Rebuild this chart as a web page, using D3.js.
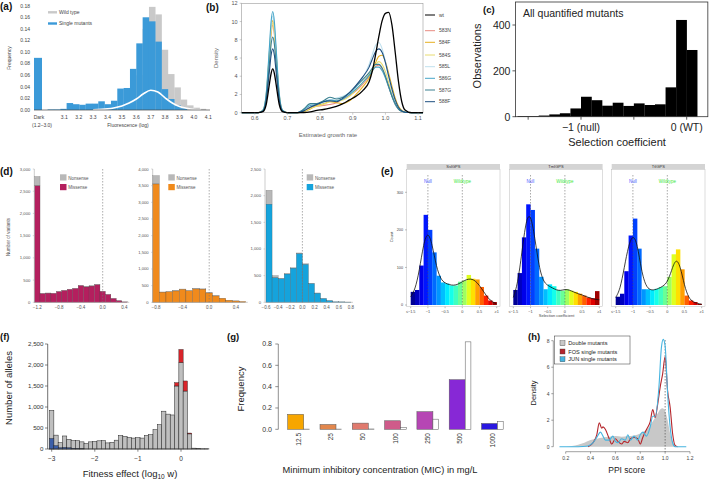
<!DOCTYPE html>
<html><head><meta charset="utf-8">
<script src="https://cdn.jsdelivr.net/npm/d3@7"></script>
<style>body{margin:0;background:#fff}svg{display:block}text{font-family:"Liberation Sans",Arial,sans-serif}</style>
</head><body><svg id="c" width="709" height="482"></svg>
<script>
// ---------- Panel a ----------
const aBinEdges = [2.984,3.028,3.072,3.116,3.160,3.204,3.248,3.292,3.336,3.380,3.424,3.468,3.512,3.556,3.600,3.644,3.688,3.732,3.776,3.820,3.864,3.908,3.952,3.996,4.040];
const aBinWidth = 0.044;
const aSingle = [0.001,0.001,0.002,0.012,0.010,0.009,0.011,0.011,0.015,0.010,0.016,0.037,0.038,0.071,0.115,0.160,0.153,0.118,0.036,0.019,0.008,0.003,0,0,0];
const aWild   = [0,0,0,0,0,0,0,0,0,0,0,0,0,0.020,0.060,0.140,0.178,0.165,0.104,0.062,0.039,0.018,0.008,0.004,0.002];
const aDarkCat = ["Dark"];
const aDarkValue = [0.09];
const aCurveX = [3.30,3.40,3.45,3.50,3.55,3.60,3.65,3.70,3.75,3.80,3.85,3.90,3.95,4.00,4.05];
const aCurveY = [0.0005,0.002,0.004,0.007,0.012,0.019,0.028,0.034,0.031,0.021,0.012,0.006,0.003,0.001,0.0003];
const aYTicks = [0,0.02,0.04,0.06,0.08,0.10,0.12,0.14,0.16,0.18];
const aXTicks = [3.1,3.2,3.3,3.4,3.5,3.6,3.7,3.8,3.9,4.0,4.1];

// ---------- Panel b ----------
const bX = [0.56,0.61,0.625,0.635,0.645,0.65,0.655,0.66,0.665,0.675,0.685,0.70,0.73,0.75,0.77,0.79,0.81,0.83,0.85,0.87,0.89,0.91,0.93,0.95,0.96,0.97,0.98,0.99,1.00,1.01,1.02,1.03,1.04,1.05,1.06,1.08,1.115];
const bNames = ["wt","583N","584F","584S","585L","586G","587G","588F"];
const bColors = ["#000000","#e88a80","#e6b020","#e8dc70","#bfe0ee","#45a5c8","#3a8090","#1e4f80"];
const bWt   = [0,0,0.12,0.9,3.2,4.3,4.8,4.3,3.2,0.9,0.12,0,0,0.02,0.1,0.25,0.35,0.5,0.7,1.0,1.4,1.8,2.4,3.4,4.6,6.4,8.4,10.1,10.9,11.0,9.6,6.6,3.4,1.2,0.3,0,0];
const b583N = [0,0,0.23,1.8,6.3,8.6,9.6,8.6,6.3,1.8,0.23,0,0,0.2,0.6,0.7,0.8,0.9,1.1,1.5,1.9,2.4,3.1,4.0,4.6,5.1,5.2,4.8,3.9,2.8,1.8,0.9,0.4,0.15,0.05,0,0];
const b584F = [0,0,0.24,1.9,6.7,9.1,10.1,9.1,6.7,1.9,0.24,0,0,0.1,0.4,0.8,1.0,1.2,1.1,1.0,1.3,2.0,2.8,3.8,4.6,5.5,6.2,6.3,5.6,4.3,2.9,1.6,0.7,0.25,0.08,0,0];
const b584S = [0,0,0.24,1.86,6.5,8.8,9.8,8.8,6.5,1.86,0.24,0,0,0.1,0.5,0.7,0.9,1.2,1.3,1.4,1.8,2.5,3.3,4.2,4.8,5.3,5.6,5.3,4.5,3.3,2.1,1.1,0.5,0.2,0.05,0,0];
const b585L = [0,0,0.26,2.0,7.0,9.5,10.6,9.5,7.0,2.0,0.26,0,0,0.3,0.9,1.0,1.1,1.4,1.6,1.8,2.2,2.8,3.8,5.3,6.4,7.4,7.7,7.0,5.6,3.9,2.4,1.2,0.5,0.2,0.05,0,0];
const b586G = [0,0,0.27,2.1,7.3,10.0,11.1,10.0,7.3,2.1,0.27,0,0,0.3,0.8,0.9,1.2,1.4,1.3,1.5,2.0,2.6,3.3,4.1,4.6,5.0,5.0,4.6,3.8,2.8,1.8,0.9,0.4,0.15,0.05,0,0];
const b587G = [0,0,0.2,1.6,5.5,7.5,8.3,7.5,5.5,1.6,0.2,0,0,0.4,1.0,1.0,1.3,1.7,1.5,1.7,2.2,2.9,3.6,4.4,4.9,5.3,5.3,4.9,4.0,2.9,1.8,1.0,0.4,0.15,0.05,0,0];
const b588F = [0,0,0.17,1.33,4.6,6.3,7.0,6.3,4.6,1.33,0.17,0,0,0.2,0.6,0.9,1.2,1.3,1.2,1.6,2.2,3.0,3.9,5.0,5.9,6.7,7.0,6.6,5.5,4.0,2.6,1.4,0.6,0.2,0.05,0,0];
const bYTicks = [0,2,4,6,8,10,12];
const bXTicks = [0.6,0.7,0.8,0.9,1.0,1.1];

// ---------- Panel c ----------
const cBinStarts = [-1.6,-1.5,-1.4,-1.3,-1.2,-1.1,-1.0,-0.9,-0.8,-0.7,-0.6,-0.5,-0.4,-0.3,-0.2,-0.1,0.0];
const cCounts = [3,3,5,10,15,36,87,72,48,61,47,58,51,54,128,422,291];
const cYTicks = [0,200,400];
const cXTicks = [-1.5,-1,-0.5,0];
const cXLabels = {"-1":"\u22121 (null)","0":"0 (WT)"};

// ---------- Panel d ----------
const dMis1 = [2620,195,205,200,240,265,290,310,375,345,365,395,245,175,85,35,10];
const dNon1 = [210,8,5,5,5,5,5,5,8,8,8,10,5,3,2,1,0];
const dMis2 = [3550,305,315,340,390,345,400,395,280,190,120,60,40,25];
const dNon2 = [250,5,5,5,8,5,8,8,5,3,2,1,1,0];
const dMis3 = [1840,460,440,530,640,910,710,350,170,70,30,10,8,5];
const dNon3 = [260,40,10,5,8,15,12,8,5,2,1,0,0,0];
const dXTicks1 = [-1.2,-0.8,-0.4,0.0,0.4];
const dXTicks2 = [-0.8,-0.4,0.0,0.4];
const dXTicks3 = [-0.6,-0.4,-0.2,0.0,0.2,0.4,0.6,0.8];
const dYTicks1 = [0,500,1000,1500,2000,2500,3000];
const dYTicks2 = [0,500,1000,1500,2000,2500,3000,3500,4000];
const dYTicks3 = [0,500,1000,1500,2000,2500];

// ---------- Panel e ----------
const eFacets = ["SsIGPS","TmIGPS","TtIGPS"];
const eBinStart = -1.5, eBinWidth = 0.125;
const eSs = [35,40,105,240,200,140,78,60,57,52,52,62,65,80,70,68,48,25,12,8];
const eTm = [40,85,180,268,253,150,75,42,55,50,40,38,42,38,35,30,25,20,18,37];
const eTt = [22,30,90,185,230,150,42,42,40,43,48,50,75,135,148,95,25,12,8,3];
const eCurveX = [-1.5,-1.375,-1.25,-1.125,-1.0,-0.875,-0.75,-0.625,-0.5,-0.375,-0.25,-0.125,0,0.125,0.25,0.375,0.5,0.625,0.75,0.875,1.0];
const eCurveSs = [22,40,90,165,197,162,100,68,58,54,52,55,62,68,70,65,52,35,18,8,3];
const eCurveTm = [20,55,140,230,245,180,100,62,52,46,40,38,42,40,35,30,27,22,18,15,14];
const eCurveTt = [20,40,100,160,188,165,90,50,40,40,44,50,60,92,125,105,50,18,8,4,2];
const eYTicks = [0,100,200,300];
const eXTicks = [-1.5,-1,-0.5,0,0.5,1];
const eXLabels = ["\u2264\u22121.5","\u22121","\u22120.5","0","0.5","\u22651"];

// ---------- Panel f ----------
const fCenters = [-3.0,-2.9,-2.8,-2.7,-2.6,-2.5,-2.4,-2.3,-2.2,-2.1,-2.0,-1.9,-1.8,-1.7,-1.6,-1.5,-1.4,-1.3,-1.2,-1.1,-1.0,-0.9,-0.8,-0.7,-0.6,-0.5,-0.4,-0.3,-0.2,-0.1,0.0,0.1,0.2,0.3,0.4,0.5,0.6];
const fGray = [920,330,150,310,230,200,200,170,130,170,180,195,200,145,160,210,320,300,275,260,270,260,320,340,460,580,900,830,810,1500,2060,1380,360,20,10,5,5];
const fBlue = [250,80,30,40,30,15,10,5,0,0,0,0,0,0,0,0,0,0,0,0,0,0,0,0,0,0,0,0,0,0,0,0,0,0,0,0,0];
const fRed  = [0,0,0,0,0,0,0,0,0,0,0,0,0,0,0,0,0,0,0,0,0,0,0,0,0,0,0,0,0,80,310,240,20,0,0,0,0];
const fYTicks = [0,500,1000,1500,2000,2500];
const fXTicks = [-3,-2,-1,0];

// ---------- Panel g ----------
const gCats = ["12.5","25","50","100","250","500","1000"];
const gColored = [0.14,0.045,0.058,0.08,0.165,0.465,0.055];
const gWhite = [0.002,0.002,0.003,0.018,0.095,0.82,0.075];
const gColors = ["#f7a600","#e2874d","#e07a6e","#cf5b8a","#b646b4","#8728d6","#2a18e0"];
const gYTicks = [0,0.2,0.4,0.6,0.8];

// ---------- Panel h ----------
const hGrayX = [0.2,0.25,0.3,0.35,0.4,0.45,0.5,0.55,0.6,0.65,0.7,0.75,0.8,0.85,0.88,0.9,0.92,0.94,0.96,0.98,1.0,1.02,1.04,1.06,1.08,1.1];
const hGrayY = [0,0.05,0.15,0.3,0.5,0.6,0.7,0.75,0.8,0.75,0.8,0.85,1.0,1.3,1.6,1.9,2.2,2.5,2.8,2.9,2.7,2.0,1.0,0.4,0.1,0];
const hFosX = [0.38,0.42,0.45,0.47,0.49,0.5,0.52,0.55,0.57,0.6,0.62,0.65,0.67,0.7,0.72,0.75,0.78,0.8,0.82,0.85,0.88,0.9,0.92,0.94,0.96,0.98,1.0,1.02,1.04,1.06,1.08,1.1];
const hFosY = [0,0.3,0.9,1.8,1.4,1.5,1.3,0.6,0.2,0.6,0.4,0.2,0.4,0.3,0.6,0.7,0.6,0.2,0.7,1.3,1.9,2.8,2.2,3.2,4.5,5.5,6.8,4.2,3.0,1.0,0.1,0];
const hJunX = [0.15,0.3,0.38,0.42,0.45,0.48,0.5,0.52,0.55,0.58,0.6,0.62,0.65,0.68,0.7,0.72,0.75,0.78,0.8,0.82,0.85,0.88,0.9,0.92,0.95,0.97,0.985,1.0,1.02,1.04,1.06,1.08,1.1,1.17];
const hJunY = [0,0,0.05,0.3,0.7,1.1,0.8,0.5,0.5,0.8,0.4,0.3,0.6,0.5,0.9,0.5,0.8,0.5,0.9,1.1,0.8,1.5,2.3,2.3,4.5,7.5,8.1,7.6,4.0,1.5,0.3,0,0,0];
const hYTicks = [0,2,4,6,8];
const hXTicks = [0.2,0.4,0.6,0.8,1.0,1.2];
const hLegend = ["Double mutants","FOS single mutants","JUN single mutants"];
const hColors = ["#c8c8c8","#b5252b","#45b4e0"];

// =============== drawing ===============
const svg = d3.select("#c");
const minus = s => String(s).replace("-","\u2212");
function txt(g,x,y,s,size,o={}){
  const t=g.append("text").attr("x",x).attr("y",y).attr("font-size",size).attr("fill",o.fill||"#222").text(s);
  if(o.anchor) t.attr("text-anchor",o.anchor);
  if(o.weight) t.attr("font-weight",o.weight);
  if(o.rotate!==undefined) t.attr("transform",`rotate(${o.rotate},${x},${y})`);
  if(o.family) t.attr("font-family",o.family);
  return t;
}
function line(g,x1,y1,x2,y2,c,w,dash){
  const l=g.append("line").attr("x1",x1).attr("y1",y1).attr("x2",x2).attr("y2",y2).attr("stroke",c).attr("stroke-width",w);
  if(dash) l.attr("stroke-dasharray",dash);
  return l;
}

// ----- a -----
(function(){
  const g=svg.append("g");
  const x=d3.scaleLinear().domain([3.1,4.1]).range([64.3,208.3]);
  const y=d3.scaleLinear().domain([0,0.18]).range([110,5.7]);
  const band=d3.scaleBand().domain(aDarkCat).range([34,42]);
  const bins=aBinEdges.map((e,i)=>({e,w:aWild[i],s:aSingle[i]}));
  g.selectAll(".w").data(bins.filter(d=>d.w>0)).join("rect")
    .attr("x",d=>x(d.e)).attr("width",d=>x(d.e+aBinWidth)-x(d.e)+0.2)
    .attr("y",d=>y(d.w)).attr("height",d=>y(0)-y(d.w)).attr("fill","#c9c9c9");
  g.selectAll(".s").data(bins.filter(d=>d.s>0)).join("rect")
    .attr("x",d=>x(d.e)).attr("width",d=>x(d.e+aBinWidth)-x(d.e)+0.2)
    .attr("y",d=>y(d.s)).attr("height",d=>y(0)-y(d.s)).attr("fill","#3b9ad8");
  g.selectAll(".d").data(aDarkCat).join("rect").attr("x",d=>band(d)).attr("width",band.bandwidth())
    .attr("y",(d,i)=>y(aDarkValue[i])).attr("height",(d,i)=>y(0)-y(aDarkValue[i])).attr("fill","#3b9ad8");
  g.append("path").datum(aCurveX.map((v,i)=>[v,aCurveY[i]]))
    .attr("d",d3.line().x(d=>x(d[0])).y(d=>y(d[1])).curve(d3.curveMonotoneX))
    .attr("fill","none").attr("stroke","#fff").attr("stroke-width",1.6);
  line(g,34,110,210,110,"#444",0.7);
  aYTicks.forEach(v=>txt(g,30,y(v)+1.8,v.toFixed(2),5,{anchor:"end",fill:"#444"}));
  aXTicks.forEach(v=>txt(g,x(v),119,v.toFixed(1),5,{anchor:"middle",fill:"#444"}));
  txt(g,39,119,"Dark",5,{anchor:"middle",fill:"#444"});
  txt(g,42,127,"(1.2\u20133.0)",5,{anchor:"middle",fill:"#444"});
  txt(g,128,127,"Fluorescence (log)",5,{anchor:"middle",fill:"#444"});
  txt(g,11,58,"Frequency",5,{anchor:"middle",fill:"#444",rotate:-90});
  line(g,48,12.3,57,12.3,"#c9c9c9",2.4);
  line(g,48,23.5,57,23.5,"#3b9ad8",2.4);
  txt(g,59,14.2,"Wild type",5,{fill:"#444"});
  txt(g,59,25.4,"Single mutants",5,{fill:"#444"});
  txt(g,0,10,"(a)",10,{weight:"bold",fill:"#111"});
})();

// ----- b -----
(function(){
  const g=svg.append("g");
  const x=d3.scaleLinear().domain([0.56,1.115]).range([241.7,423]);
  const y=d3.scaleLinear().domain([0,12]).range([112.7,3.3]);
  g.append("rect").attr("x",241.7).attr("y",3.3).attr("width",423-241.7).attr("height",112.7-3.3).attr("fill","none").attr("stroke","#999").attr("stroke-width",0.6);
  const series=[bWt,b583N,b584F,b584S,b585L,b586G,b587G,b588F];
  const ln=d3.line().x((d,i)=>x(bX[i])).y(d=>y(d)).curve(d3.curveMonotoneX);
  const order=[1,2,3,4,5,6,7,0];
  order.forEach(k=>{
    g.append("path").datum(series[k]).attr("d",ln).attr("fill","none").attr("stroke",bColors[k]).attr("stroke-width",k===0?1.3:1.1);
  });
  bYTicks.forEach(v=>{txt(g,237.5,y(v)+2,v,5.5,{anchor:"end",fill:"#555"});line(g,239.7,y(v),241.7,y(v),"#999",0.5);});
  bXTicks.forEach(v=>{txt(g,x(v),120,v.toFixed(1),5.5,{anchor:"middle",fill:"#555"});line(g,x(v),112.7,x(v),114.7,"#999",0.5);});
  txt(g,328,137,"Estimated growth rate",6,{anchor:"middle",fill:"#666"});
  txt(g,218,58,"Density",6,{anchor:"middle",fill:"#666",rotate:-90});
  const ly=[15,30.7,42.3,55,66.7,78.3,90,101.7];
  bNames.forEach((n,i)=>{line(g,425,ly[i],435,ly[i],bColors[i],1);txt(g,439,ly[i]+1.7,n,5,{fill:"#444"});});
  txt(g,206,11,"(b)",10,{weight:"bold",fill:"#111"});
})();

// ----- c -----
(function(){
  const g=svg.append("g");
  const x=d3.scaleLinear().domain([-1,0]).range([581,686.7]);
  const y=d3.scaleLinear().domain([0,400]).range([116.7,25]);
  g.selectAll("rect.b").data(cBinStarts.map((s,i)=>({s,v:cCounts[i]}))).join("rect")
    .attr("x",d=>x(d.s)).attr("width",d=>x(d.s+0.1)-x(d.s)+0.2).attr("y",d=>y(d.v)).attr("height",d=>y(0)-y(d.v)).attr("fill","#000");
  const L=x(-1.62),R=x(0.2);
  g.append("rect").attr("x",L).attr("y",2).attr("width",R-L).attr("height",116.7-2).attr("fill","none").attr("stroke","#333").attr("stroke-width",0.8);
  cYTicks.forEach(v=>{line(g,L-3,y(v),L,y(v),"#333",0.8);txt(g,L-5,y(v)+3.8,v,10.5,{anchor:"end"});});
  cXTicks.forEach(v=>{line(g,x(v),116.7,x(v),119.7,"#333",0.8); if(cXLabels[String(v)]) txt(g,x(v),131,cXLabels[String(v)],10.5,{anchor:"middle"});});
  txt(g,617,146,"Selection coefficient",11,{anchor:"middle"});
  txt(g,481,56,"Observations",11,{anchor:"middle",rotate:-90});
  txt(g,523,17,"All quantified mutants",10.5,{});
  txt(g,483,13,"(c)",9.5,{weight:"bold",fill:"#111"});
})();

// ----- d -----
(function(){
  const g=svg.append("g");
  const subs=[
    {mis:dMis1,non:dNon1,col:"#b41f5e",xd:[-1.2,0],xr:[37.3,102.7],start:-1.25,ymax:3000,ax:34.3,xt:dXTicks1,yt:dYTicks1,leg:60},
    {mis:dMis2,non:dNon2,col:"#f08a1c",xd:[-0.8,0],xr:[156,209.2],start:-0.85,ymax:4000,ax:152.7,xt:dXTicks2,yt:dYTicks2,leg:168.3},
    {mis:dMis3,non:dNon3,col:"#15a3dc",xd:[-0.6,0],xr:[266,302.4],start:-0.6,ymax:2500,ax:265,xt:dXTicks3,yt:dYTicks3,leg:306.7}
  ];
  subs.forEach(s=>{
    const x=d3.scaleLinear().domain(s.xd).range(s.xr);
    const y=d3.scaleLinear().domain([0,s.ymax]).range([302.3,169]);
    const data=s.mis.map((m,i)=>({a:s.start+i*0.1,m,n:s.non[i]}));
    g.selectAll(null).data(data).join("rect").attr("x",d=>x(d.a)).attr("width",d=>x(d.a+0.1)-x(d.a))
      .attr("y",d=>y(d.m+d.n)).attr("height",d=>y(d.m)-y(d.m+d.n)).attr("fill","#b8b8b8").attr("stroke","#555").attr("stroke-width",0.25);
    g.selectAll(null).data(data).join("rect").attr("x",d=>x(d.a)).attr("width",d=>x(d.a+0.1)-x(d.a))
      .attr("y",d=>y(d.m)).attr("height",d=>y(0)-y(d.m)).attr("fill",s.col).attr("stroke","#444").attr("stroke-width",0.25);
    const right=x(s.start+s.mis.length*0.1)+2;
    line(g,s.ax,302.3,right,302.3,"#999",0.5);
    line(g,s.ax,302.3,s.ax,169,"#999",0.5);
    line(g,x(0),169,x(0),302.3,"#777",0.6,"1.5,1.5");
    s.yt.forEach(v=>{txt(g,s.ax-4,y(v)+1.5,d3.format(",")(v),4.2,{anchor:"end",fill:"#555"});line(g,s.ax-1.5,y(v),s.ax,y(v),"#999",0.4);});
    s.xt.forEach(v=>txt(g,x(v),309,minus(v.toFixed(1)),4.5,{anchor:"middle",fill:"#555"}));
    g.append("rect").attr("x",s.leg).attr("y",174.3).attr("width",6.5).attr("height",6.2).attr("fill","#b8b8b8");
    g.append("rect").attr("x",s.leg).attr("y",184).attr("width",6.5).attr("height",6.2).attr("fill",s.col);
    txt(g,s.leg+8.3,179.5,"Nonsense",4.5,{fill:"#555"});
    txt(g,s.leg+8.3,189.2,"Missense",4.5,{fill:"#555"});
  });
  txt(g,10,237,"Number of variants",4.5,{anchor:"middle",fill:"#555",rotate:-90});
  txt(g,0,175,"(d)",10,{weight:"bold",fill:"#111"});
})();

// ----- e -----
(function(){
  const g=svg.append("g");
  const jet=t=>{const c=v=>Math.max(0,Math.min(1,v));return d3.rgb(255*c(1.5-Math.abs(4*t-3)),255*c(1.5-Math.abs(4*t-2)),255*c(1.5-Math.abs(4*t-1)));};
  const tmap=v=>v<0?0.5+v/3:0.5+v/2;
  const lefts=[406.7,509.3,611.7], W=93.3;
  const bins=[eSs,eTm,eTt], curves=[eCurveSs,eCurveTm,eCurveTt];
  const y=d3.scaleLinear().domain([0,300]).range([305,192.3]);
  eFacets.forEach((name,k)=>{
    const L=lefts[k];
    const x=d3.scaleLinear().domain([-1.5,1]).range([L+4,L+90]);
    g.append("rect").attr("x",L).attr("y",169.3).attr("width",W).attr("height",306.7-169.3).attr("fill","#fff").attr("stroke","#bbb").attr("stroke-width",0.5);
    g.append("rect").attr("x",L).attr("y",164).attr("width",W).attr("height",5.3).attr("fill","#d4d4d4");
    txt(g,L+W/2,168.2,name,4,{anchor:"middle",fill:"#333"});
    const data=bins[k].map((v,i)=>({a:eBinStart+i*eBinWidth,v}));
    g.selectAll(null).data(data).join("rect").attr("x",d=>x(d.a)).attr("width",d=>x(d.a+eBinWidth)-x(d.a)+0.15)
      .attr("y",d=>y(d.v)).attr("height",d=>y(0)-y(d.v)).attr("fill",d=>jet(tmap(d.a+eBinWidth/2)));
    line(g,x(-1),175,x(-1),306.7,"#555",0.5,"1.5,1.5");
    line(g,x(0),175,x(0),306.7,"#555",0.5,"1.5,1.5");
    txt(g,x(-1),183,"Null",4.5,{anchor:"middle",fill:"#4a5cff"});
    txt(g,x(0),183,"Wildtype",4.5,{anchor:"middle",fill:"#3ce83c"});
    g.append("path").datum(curves[k]).attr("d",d3.line().x((d,i)=>x(eCurveX[i])).y(d=>y(d)).curve(d3.curveBasis))
      .attr("fill","none").attr("stroke","#111").attr("stroke-width",0.8);
    eXTicks.forEach((v,i)=>{line(g,x(v),306.7,x(v),308.2,"#555",0.4);txt(g,x(v),312.8,eXLabels[i],3.8,{anchor:"middle",fill:"#444"});});
  });
  eYTicks.forEach(v=>{txt(g,403,y(v)+1.3,v,3.8,{anchor:"end",fill:"#444"});line(g,405,y(v),406.7,y(v),"#555",0.4);});
  txt(g,393,237,"Count",4,{anchor:"middle",fill:"#444",rotate:-90});
  txt(g,556.5,317,"Selection coefficient",4,{anchor:"middle",fill:"#444"});
  txt(g,381,175,"(e)",10,{weight:"bold",fill:"#111"});
})();

// ----- f -----
(function(){
  const g=svg.append("g");
  const x=d3.scaleLinear().domain([-3,0]).range([51.7,181]);
  const y=d3.scaleLinear().domain([0,2500]).range([449,344]);
  const data=fCenters.map((c,i)=>({c,g:fGray[i],b:fBlue[i],r:fRed[i]}));
  g.selectAll(null).data(data).join("rect").attr("x",d=>x(d.c-0.05)).attr("width",d=>x(d.c+0.05)-x(d.c-0.05))
    .attr("y",d=>y(d.g)).attr("height",d=>y(0)-y(d.g)).attr("fill","#bfbfbf").attr("stroke","#222").attr("stroke-width",0.5);
  g.selectAll(null).data(data.filter(d=>d.b>0)).join("rect").attr("x",d=>x(d.c-0.05)).attr("width",d=>x(d.c+0.05)-x(d.c-0.05))
    .attr("y",d=>y(d.b)).attr("height",d=>y(0)-y(d.b)).attr("fill","#3b5ea8").attr("stroke","#222").attr("stroke-width",0.4);
  g.selectAll(null).data(data.filter(d=>d.r>0)).join("rect").attr("x",d=>x(d.c-0.05)).attr("width",d=>x(d.c+0.05)-x(d.c-0.05))
    .attr("y",d=>y(d.g+d.r)).attr("height",d=>y(d.g)-y(d.g+d.r)).attr("fill","#d9242a").attr("stroke","#222").attr("stroke-width",0.4);
  line(g,47.7,449,208.3,449,"#333",0.7);
  line(g,47.7,449,47.7,344,"#333",0.7);
  fYTicks.forEach(v=>{line(g,45,y(v),47.7,y(v),"#333",0.6);txt(g,43.5,y(v)+2.2,d3.format(",")(v),6.2,{anchor:"end",fill:"#333"});});
  fXTicks.forEach(v=>{line(g,x(v),449,x(v),451.7,"#333",0.6);txt(g,x(v),460.5,minus(v),6.5,{anchor:"middle",fill:"#333"});});
  const t=txt(g,130,476.5,"Fitness effect (log",9.5,{anchor:"middle"});
  t.append("tspan").attr("font-size",6.5).attr("dy",2.5).text("10");
  t.append("tspan").attr("dy",-2.5).text(" w)");
  txt(g,12,388,"Number of alleles",9.5,{anchor:"middle",rotate:-90});
  txt(g,0,340,"(f)",9.5,{weight:"bold",fill:"#111"});
})();

// ----- g -----
(function(){
  const g=svg.append("g");
  const xb=d3.scaleBand().domain(gCats).range([280.5,280.5+7*32.3]);
  const y=d3.scaleLinear().domain([0,0.8]).range([429.3,344]);
  g.selectAll(null).data(gCats).join("rect").attr("x",d=>xb(d)+7.2).attr("width",16)
    .attr("y",(d,i)=>y(gColored[i])).attr("height",(d,i)=>y(0)-y(gColored[i])).attr("fill",(d,i)=>gColors[i]).attr("stroke","#555").attr("stroke-width",0.5);
  g.selectAll(null).data(gCats).join("rect").attr("x",d=>xb(d)+23.2).attr("width",5.7)
    .attr("y",(d,i)=>y(gWhite[i])).attr("height",(d,i)=>y(0)-y(gWhite[i])).attr("fill","#fff").attr("stroke","#555").attr("stroke-width",0.5);
  line(g,278.3,429.3,278.3,344,"#444",0.6);
  gYTicks.forEach(v=>{line(g,275.3,y(v),278.3,y(v),"#444",0.6);txt(g,272,y(v)+2.4,v.toFixed(1),7,{anchor:"end",fill:"#333"});});
  gCats.forEach(c=>txt(g,xb(c)+18+2.3,433,c,6.5,{anchor:"end",fill:"#333",rotate:-90}));
  txt(g,380,473,"Minimum inhibitory concentration (MIC) in mg/L",9.3,{anchor:"middle"});
  txt(g,244,389,"Frequency",9.5,{anchor:"middle",rotate:-90});
  txt(g,227,340,"(g)",9.5,{weight:"bold",fill:"#111"});
})();

// ----- h -----
(function(){
  const g=svg.append("g");
  const x=d3.scaleLinear().domain([0.2,1.2]).range([565.7,690]);
  const y=d3.scaleLinear().domain([0,8]).range([446.7,340.7]);
  g.append("path").datum(hGrayX.map((v,i)=>[v,hGrayY[i]]))
    .attr("d",d3.area().x(d=>x(d[0])).y0(y(0)).y1(d=>y(d[1])).curve(d3.curveMonotoneX)).attr("fill",hColors[0]);
  line(g,x(1.0),340,x(1.0),451.7,"#555",0.7,"1.5,1.5");
  g.append("path").datum(hFosX.map((v,i)=>[v,hFosY[i]]))
    .attr("d",d3.line().x(d=>x(d[0])).y(d=>y(d[1])).curve(d3.curveMonotoneX)).attr("fill","none").attr("stroke",hColors[1]).attr("stroke-width",1.1);
  g.append("path").datum(hJunX.map((v,i)=>[v,hJunY[i]]))
    .attr("d",d3.line().x(d=>x(d[0])).y(d=>y(d[1])).curve(d3.curveMonotoneX)).attr("fill","none").attr("stroke",hColors[2]).attr("stroke-width",1.1);
  line(g,553.3,446.7,553.3,340.7,"#444",0.5);
  hYTicks.forEach(v=>{line(g,551.3,y(v),553.3,y(v),"#444",0.5);txt(g,549.5,y(v)+1.8,v,5,{anchor:"end",fill:"#444"});});
  line(g,x(0.2),451.7,x(1.2),451.7,"#444",0.5);
  hXTicks.forEach(v=>{line(g,x(v),451.7,x(v),453.7,"#444",0.5);txt(g,x(v),460,v.toFixed(1),5,{anchor:"middle",fill:"#444"});});
  g.append("rect").attr("x",554.3).attr("y",336).attr("width",75.7).attr("height",28).attr("fill","#fff").attr("fill-opacity",0.85).attr("stroke","#333").attr("stroke-width",0.5);
  const ly=[343.3,351.5,359.3];
  hLegend.forEach((n,i)=>{
    g.append("rect").attr("x",560).attr("y",ly[i]-2.5).attr("width",5).attr("height",5).attr("fill",hColors[i]).attr("stroke","#444").attr("stroke-width",0.4);
    txt(g,568.3,ly[i]+2,n,5.6,{fill:"#222"});
  });
  txt(g,626.7,473,"PPI score",8.5,{anchor:"middle"});
  txt(g,536,393,"Density",7.5,{anchor:"middle",rotate:-90});
  txt(g,528,340,"(h)",9.5,{weight:"bold",fill:"#111"});
})();
</script></body></html>
